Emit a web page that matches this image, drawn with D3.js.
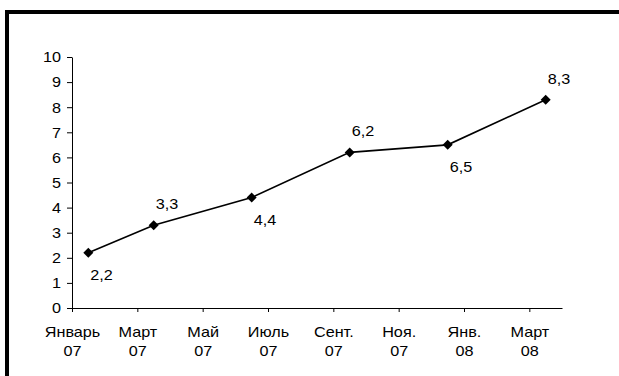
<!DOCTYPE html>
<html>
<head>
<meta charset="utf-8">
<script src="https://cdn.jsdelivr.net/npm/d3@7"></script>
<style>
  body { margin: 0; background: #fff; }
  text { font-family: "Liberation Sans", Arial, sans-serif; font-size: 15px; fill: #000; }
</style>
</head>
<body>
<svg id="chart" width="619" height="376"></svg>
<script>
// data (month index: 0 = January 2007)
var pointMonths = [0, 2, 5, 8, 11, 14];
var pointValues = [2.2, 3.3, 4.4, 6.2, 6.5, 8.3];
var pointLabels = ["2,2", "3,3", "4,4", "6,2", "6,5", "8,3"];

var xTickMonths = [0, 2, 4, 6, 8, 10, 12, 14];
var xTickLabels = [
    ["Январь", "07"], ["Март", "07"], ["Май", "07"], ["Июль", "07"],
    ["Сент.", "07"], ["Ноя.", "07"], ["Янв.", "08"], ["Март", "08"]
];
var yTicks = [0, 1, 2, 3, 4, 5, 6, 7, 8, 9, 10];

// label placement: below / above the marker
var labelSide = ["below", "above", "below", "above", "below", "above"];

var stretch = "scale(1.08,1)";

var svg = d3.select("#chart");

// frame round the chart area
svg.append("rect")
    .attr("x", 7).attr("y", 12)
    .attr("width", 700).attr("height", 500)
    .attr("fill", "none")
    .attr("stroke", "#000")
    .attr("stroke-width", 4);

var x = d3.scaleLinear().domain([0, 15]).range([72, 562]);
var y = d3.scaleLinear().domain([0, 10]).range([308, 57]);

// y axis
var yAxis = svg.append("g")
    .attr("transform", "translate(72,0)")
    .call(d3.axisLeft(y).tickValues(yTicks).tickSize(5).tickSizeOuter(0));
yAxis.selectAll("text")
    .attr("x", 0)
    .attr("transform", "translate(-11,0) " + stretch);

// x axis
var xAxis = svg.append("g")
    .attr("transform", "translate(0,308)")
    .call(d3.axisBottom(x).tickValues(xTickMonths).tickSize(4).tickSizeOuter(0).tickFormat(""));

xAxis.selectAll(".tick").each(function (d, i) {
    var t = d3.select(this).append("text")
        .attr("text-anchor", "middle")
        .attr("transform", stretch)
        .attr("fill", "#000");
    t.append("tspan").attr("x", 0).attr("y", 29).text(xTickLabels[i][0]);
    t.append("tspan").attr("x", 0).attr("y", 48).text(xTickLabels[i][1]);
});

svg.selectAll(".domain, .tick line").attr("stroke", "#000");

// line
var pts = pointMonths.map(function (m, i) {
    return { m: m, v: pointValues[i], label: pointLabels[i], side: labelSide[i] };
});

var line = d3.line()
    .x(function (d) { return x(d.m + 0.5); })
    .y(function (d) { return y(d.v); });

svg.append("path")
    .datum(pts)
    .attr("d", line)
    .attr("fill", "none")
    .attr("stroke", "#000")
    .attr("stroke-width", 1.6);

// diamond markers
svg.selectAll(".marker")
    .data(pts)
    .enter()
    .append("path")
    .attr("class", "marker")
    .attr("d", d3.symbol().type(d3.symbolSquare).size(50))
    .attr("transform", function (d) {
        return "translate(" + x(d.m + 0.5) + "," + y(d.v) + ") rotate(45)";
    })
    .attr("fill", "#000");

// value labels
svg.selectAll(".vlabel")
    .data(pts)
    .enter()
    .append("text")
    .attr("class", "vlabel")
    .attr("transform", function (d) {
        var ty = d.side === "above" ? y(d.v) - 16 : y(d.v) + 27;
        return "translate(" + (x(d.m + 0.5) + 2) + "," + ty + ") " + stretch;
    })
    .text(function (d) { return d.label; });
</script>
</body>
</html>
